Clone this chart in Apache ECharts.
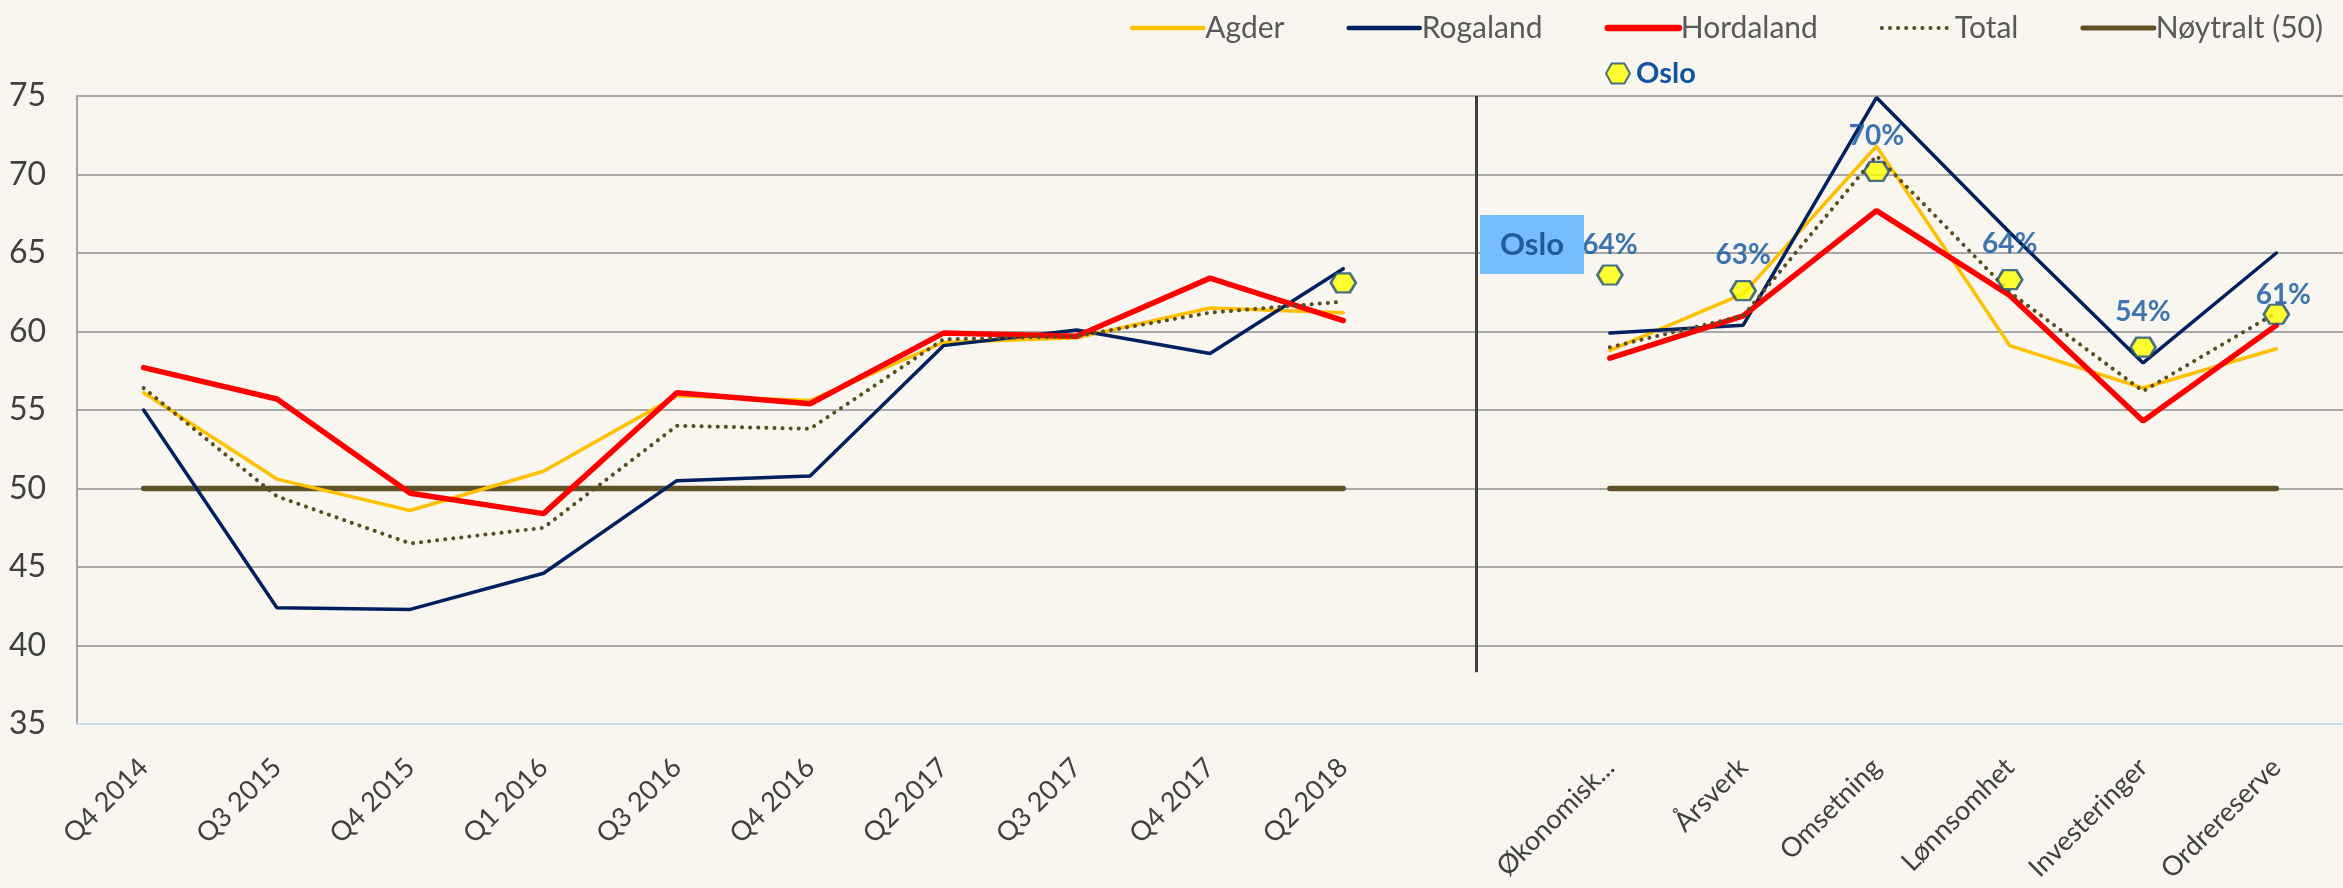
<html>
<head>
<meta charset="UTF-8"/>
<title>Indeks</title>
<script src="https://cdn.jsdelivr.net/npm/echarts@6/dist/echarts.min.js"></script>
<style>
html, body { margin: 0; padding: 0; background: #f9f6ef; }
#chart { width: 2343px; height: 888px; }
</style>
</head>
<body>
<div id="chart"></div>
<script>
// kategorier: 10 kvartaler, et tomt skille, 6 delindekser
var categories = ['Q4 2014', 'Q3 2015', 'Q4 2015', 'Q1 2016', 'Q3 2016', 'Q4 2016', 'Q2 2017', 'Q3 2017', 'Q4 2017', 'Q2 2018',
    '',
    'Økonomisk...', 'Årsverk', 'Omsetning', 'Lønnsomhet', 'Investeringer', 'Ordrereserve'];

var agder     = [56.1, 50.6, 48.6, 51.1, 55.9, 55.6, 59.3, 59.6, 61.5, 61.2, null, 58.8, 62.4, 71.8, 59.1, 56.4, 58.9];
var rogaland  = [55.0, 42.4, 42.3, 44.6, 50.5, 50.8, 59.1, 60.1, 58.6, 64.0, null, 59.9, 60.4, 74.9, 66.3, 58.0, 65.0];
var hordaland = [57.7, 55.7, 49.7, 48.4, 56.1, 55.4, 59.9, 59.7, 63.4, 60.7, null, 58.3, 61.0, 67.7, 62.3, 54.3, 60.4];
var total     = [56.4, 49.5, 46.5, 47.5, 54.0, 53.8, 59.5, 59.7, 61.2, 61.9, null, 59.0, 61.0, 71.2, 62.5, 56.2, 61.2];
var noytralt  = [50, 50, 50, 50, 50, 50, 50, 50, 50, 50, null, 50, 50, 50, 50, 50, 50];
var oslo      = [null, null, null, null, null, null, null, null, null, 63.1, null, 63.6, 62.6, 70.2, 63.3, 59.0, 61.1];
var osloLabels = ['', '', '', '', '', '', '', '', '', '', '', '64%', '63%', '70%', '64%', '54%', '61%'];

var yTicks = { min: 35, max: 75, interval: 5 };

var font = "Lato, 'Open Sans', sans-serif";
var axisGrey = '#404040';
var legendGrey = '#595959';
var osloBlue = '#0f55a0';
var hexagon = 'path://M0,5 L2.8,0 L9.2,0 L12,5 L9.2,10 L2.8,10 Z';
// label nudges that the original had set by hand
var labelNudge = { 'Ordrereserve': [7, 16], 'Økonomisk...': [0, 6] };

var osloData = [];
oslo.forEach(function (v, i) {
    if (v == null) return;
    var item = { value: [i, v], label: { formatter: osloLabels[i] } };
    if (labelNudge[categories[i]]) item.label.offset = labelNudge[categories[i]];
    osloData.push(item);
});

var myChart = echarts.init(document.getElementById('chart'));

function lineSeries(name, data, color, width, type) {
    return {
        name: name,
        type: 'line',
        data: data,
        symbol: 'none',
        connectNulls: false,
        lineStyle: { color: color, width: width, type: type || 'solid', cap: 'round' },
        itemStyle: { color: color },
        emphasis: { disabled: true },
        z: 3
    };
}

var option = {
    backgroundColor: '#f9f6ef',
    animation: false,
    textStyle: { fontFamily: font },
    grid: { left: 77, right: 0, top: 96, bottom: 164, containLabel: false, outerBoundsMode: 'none' },
    legend: [
        {
            data: [
                { name: 'Agder', lineStyle: { width: 4.5 } },
                { name: 'Rogaland', lineStyle: { width: 4.5 } },
                { name: 'Hordaland', lineStyle: { width: 6.5 } },
                { name: 'Total', lineStyle: { width: 4 } },
                { name: 'Nøytralt (50)', lineStyle: { width: 5 } }
            ],
            left: 1125,
            top: 8,
            width: 1218,
            itemWidth: 71,
            itemHeight: 34,
            itemGap: 62,
            itemStyle: { opacity: 0 },
            textStyle: { fontFamily: font, fontSize: 30, color: legendGrey, padding: [0, 0, 0, -3] }
        },
        {
            data: ['Oslo'],
            left: 1600,
            top: 54,
            itemWidth: 26,
            itemHeight: 20,
            textStyle: { fontFamily: font, fontSize: 29, fontWeight: 'bold', color: osloBlue }
        }
    ],
    xAxis: {
        type: 'category',
        data: categories,
        boundaryGap: true,
        axisLine: { lineStyle: { color: '#c6ddf0', width: 2 } },
        axisTick: { show: false },
        axisLabel: { rotate: 45, margin: 39, fontSize: 27, color: axisGrey, fontFamily: font, interval: 0 },
        splitLine: { show: false }
    },
    yAxis: {
        type: 'value',
        min: yTicks.min,
        max: yTicks.max,
        interval: yTicks.interval,
        axisLine: { show: true, lineStyle: { color: '#a6a6a6', width: 2 } },
        axisTick: { show: false },
        axisLabel: { fontSize: 32, color: axisGrey, margin: 31, fontFamily: font },
        splitLine: { lineStyle: { color: '#a8a8a8', width: 2 } }
    },
    graphic: [
        {
            type: 'rect',
            x: 1480,
            y: 215,
            shape: { width: 104, height: 59 },
            style: { fill: '#75bdfc' },
            z: 10
        },
        {
            type: 'text',
            x: 1532,
            y: 245,
            style: {
                text: 'Oslo',
                fill: '#1f5c99',
                font: 'bold 31px ' + font,
                align: 'center',
                verticalAlign: 'middle'
            },
            z: 11
        }
    ],
    series: [
        lineSeries('Agder', agder, '#ffc000', 3.5),
        lineSeries('Rogaland', rogaland, '#002060', 3.5),
        lineSeries('Hordaland', hordaland, '#ff0000', 5.5),
        lineSeries('Total', total, '#5a4d23', 4, [0.1, 8]),
        Object.assign(lineSeries('Nøytralt (50)', noytralt, '#5e5226', 5.5), {
            z: 2,
            markLine: {
                silent: true,
                symbol: 'none',
                label: { show: false },
                lineStyle: { color: '#404040', width: 3, type: 'solid' },
                data: [[{ coord: [10, 75] }, { coord: [10, 38.3] }]]
            }
        }),
        {
            name: 'Oslo',
            type: 'scatter',
            data: osloData,
            symbol: hexagon,
            symbolSize: [25, 19],
            itemStyle: { color: '#ffff00', borderColor: '#1f4e79', borderWidth: 2.5 },
            label: {
                show: true,
                position: 'top',
                distance: 11,
                fontFamily: font,
                fontSize: 28,
                fontWeight: 'bold',
                color: osloBlue,
                textBorderWidth: 0,
                textShadowBlur: 0
            },
            emphasis: { disabled: true },
            z: 5
        }
    ]
};
myChart.setOption(option);
</script>
</body>
</html>
